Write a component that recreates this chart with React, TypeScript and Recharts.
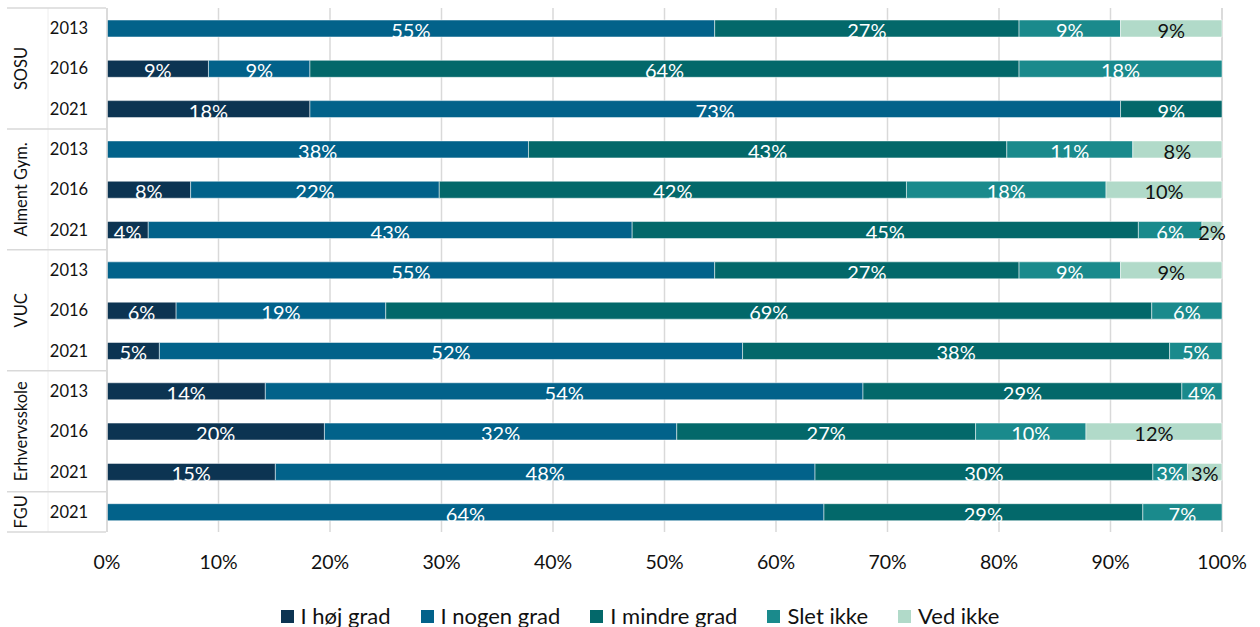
import React from "react";
import { Bar, BarChart, CartesianGrid, LabelList, Legend, XAxis, YAxis } from "recharts";

const groups = [
  "SOSU", "SOSU", "SOSU",
  "Alment Gym.", "Alment Gym.", "Alment Gym.",
  "VUC", "VUC", "VUC",
  "Erhvervsskole", "Erhvervsskole", "Erhvervsskole",
  "FGU",
];
const years = ["2013", "2016", "2021", "2013", "2016", "2021", "2013", "2016", "2021", "2013", "2016", "2021", "2021"];

const hoejGrad = [0, 9.1, 18.2, 0, 7.5, 3.7, 0, 6.2, 4.7, 14.2, 19.5, 15.1, 0];
const nogenGrad = [54.5, 9.1, 72.7, 37.8, 22.3, 43.4, 54.5, 18.8, 52.3, 53.6, 31.6, 48.4, 64.3];
const mindreGrad = [27.3, 63.6, 9.1, 42.9, 41.9, 45.4, 27.3, 68.7, 38.3, 28.6, 26.8, 30.3, 28.6];
const sletIkke = [9.1, 18.2, 0, 11.3, 17.9, 5.7, 9.1, 6.3, 4.7, 3.6, 9.9, 3.1, 7.1];
const vedIkke = [9.1, 0, 0, 8.0, 10.4, 1.8, 9.1, 0, 0, 0, 12.2, 3.1, 0];

const seriesKeys = ["hoej", "nogen", "mindre", "slet", "ved"];
const seriesNames = ["I høj grad", "I nogen grad", "I mindre grad", "Slet ikke", "Ved ikke"];
const seriesColors = ["#0c3452", "#02628a", "#03686a", "#1a8a8c", "#b1dac9"];
const labelColors = ["#ffffff", "#ffffff", "#ffffff", "#ffffff", "#111111"];
const xTicks = [0, 10, 20, 30, 40, 50, 60, 70, 80, 90, 100];

const data = years.map((year, i) => ({
  key: `${groups[i]} ${year}`,
  hoej: hoejGrad[i],
  nogen: nogenGrad[i],
  mindre: mindreGrad[i],
  slet: sletIkke[i],
  ved: vedIkke[i],
}));

const FONT = "Lato, 'Open Sans', sans-serif";
const TOP = 8;
const BOTTOM = 532;
const STEP = (BOTTOM - TOP) / years.length;
const SEP = "#d9d9d9";

function YearTick(props: any) {
  const { y, payload } = props;
  const i = data.findIndex((d) => d.key === payload.value);
  if (i < 0) return null;
  const g = groups[i];
  const first = i === 0 || groups[i - 1] !== g;
  const last = i === groups.length - 1;
  const count = groups.filter((x) => x === g).length;
  const mid = y + ((count - 1) / 2) * STEP;
  return (
    <g>
      <text x={69} y={y} dy={6} textAnchor="middle" fontFamily={FONT} fontSize={16.5} fill="#111">
        {years[i]}
      </text>
      {i === 0 && <line x1={48} x2={48} y1={y - STEP / 2} y2={y - STEP / 2 + STEP * years.length} stroke="#eeeeee" />}
      {first && <line x1={7} x2={106} y1={y - STEP / 2} y2={y - STEP / 2} stroke={SEP} strokeWidth={1.5} />}
      {last && <line x1={7} x2={106} y1={y + STEP / 2} y2={y + STEP / 2} stroke={SEP} strokeWidth={1.5} />}
      {first && (
        <text
          transform={`translate(21, ${mid}) rotate(-90)`}
          textAnchor="middle"
          dy={6}
          fontFamily={FONT}
          fontSize={16.5}
          fill="#111"
        >
          {g}
        </text>
      )}
    </g>
  );
}

const makeLabel = (color: string) => (props: any) => {
  const { x, y, width, height, value } = props;
  if (!value) return null;
  return (
    <text
      x={x + width / 2}
      y={y + height + 1}
      textAnchor="middle"
      fontFamily={FONT}
      fontSize={20}
      fill={color}
    >
      {`${Math.round(value)}%`}
    </text>
  );
};

function LegendContent() {
  return (
    <div
      style={{
        display: "flex",
        justifyContent: "center",
        alignItems: "center",
        boxSizing: "border-box",
        height: 30,
        paddingTop: 8,
        paddingLeft: 20,
        gap: 30,
        fontFamily: FONT,
        fontSize: 22,
        lineHeight: 1,
        color: "#111",
      }}
    >
      {seriesNames.map((name, i) => (
        <span key={name} style={{ display: "flex", alignItems: "center" }}>
          <span style={{ width: 13, height: 13, background: seriesColors[i], display: "inline-block", marginRight: 7 }} />
          {name}
        </span>
      ))}
    </div>
  );
}

export default function App() {
  return (
    <div style={{ position: "absolute", left: 0, top: 0, width: 1260, height: 627, background: "#fff" }}>
      <BarChart
        width={1260}
        height={627}
        data={data}
        layout="vertical"
        margin={{ top: TOP, right: 38, left: 0, bottom: 0 }}
        style={{ fontFamily: FONT }}
      >
        <CartesianGrid horizontal={false} stroke={SEP} strokeWidth={1.5} />
        <XAxis
          type="number"
          domain={[0, 100]}
          ticks={xTicks}
          tickFormatter={(v) => `${v}%`}
          axisLine={false}
          tickLine={false}
          tickSize={0}
          tickMargin={23}
          height={65}
          tick={{ fontSize: 19.5, fill: "#111", fontFamily: FONT }}
        />
        <YAxis
          type="category"
          dataKey="key"
          width={107}
          interval={0}
          axisLine={{ stroke: SEP, strokeWidth: 1.5 }}
          tickLine={false}
          tick={<YearTick />}
        />
        <Legend verticalAlign="bottom" height={30} width={1260} wrapperStyle={{ left: 0 }} content={<LegendContent />} />
        {seriesKeys.map((k, i) => (
          <Bar
            key={k}
            dataKey={k}
            name={seriesNames[i]}
            stackId="a"
            fill={seriesColors[i]}
            stroke="#ffffff"
            strokeWidth={0.5}
            barSize={17}
            isAnimationActive={false}
          >
            <LabelList dataKey={k} content={makeLabel(labelColors[i])} />
          </Bar>
        ))}
      </BarChart>
    </div>
  );
}
